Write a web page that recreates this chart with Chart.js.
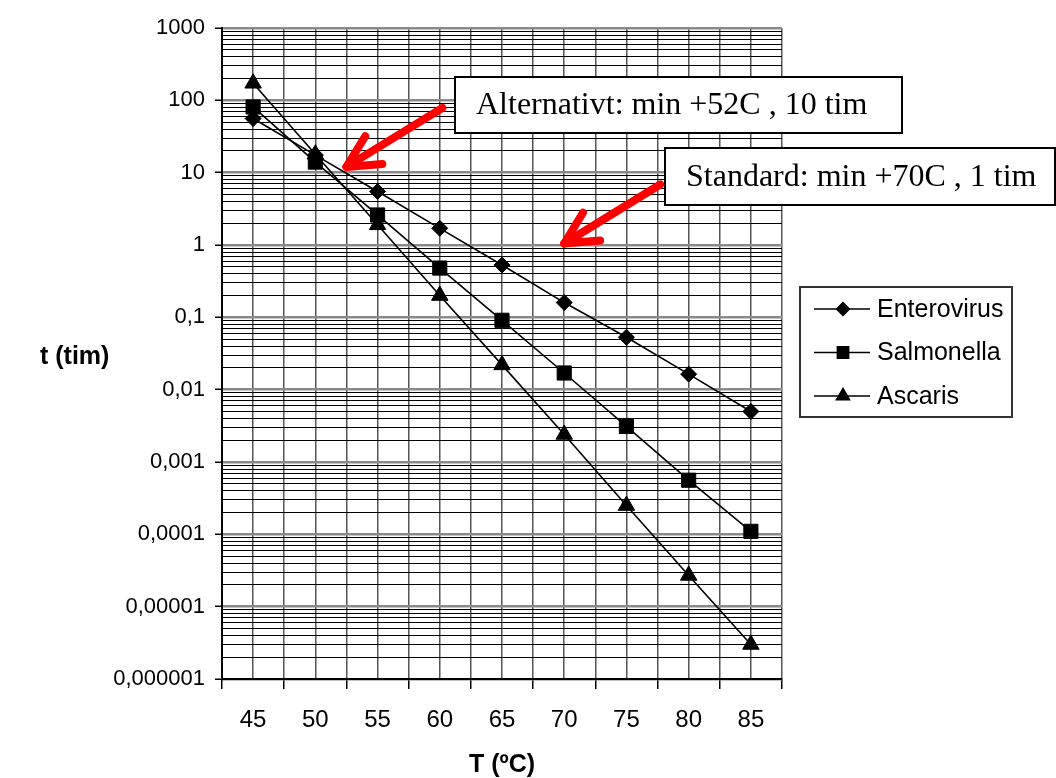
<!DOCTYPE html>
<html>
<head>
<meta charset="utf-8">
<script src="https://cdn.jsdelivr.net/npm/chart.js@4"></script>
<style>
  html, body { margin: 0; padding: 0; background: #fff; }
  #chart { display: block; }
</style>
</head>
<body>
<canvas id="chart" width="1056" height="778"></canvas>
<script>
// Temperatur (ºC) och tid (tim) för avdödning
const categories = [45, 50, 55, 60, 65, 70, 75, 80, 85];
const enterovirus = [56, 17.5, 5.5, 1.7, 0.53, 0.16, 0.053, 0.0164, 0.0050];
const salmonella = [81, 14, 2.6, 0.48, 0.091, 0.017, 0.0031, 0.00056, 0.00011];
const ascaris = [172, 18, 1.9, 0.2, 0.022, 0.0024, 0.00025, 0.000027, 0.000003];
const seriesNames = ['Enterovirus', 'Salmonella', 'Ascaris'];

// y-axelns dekader (etiketter med decimalkomma)
const decades = [0.000001, 0.00001, 0.0001, 0.001, 0.01, 0.1, 1, 10, 100, 1000];
const decadeLabels = ['0,000001', '0,00001', '0,0001', '0,001', '0,01', '0,1', '1', '10', '100', '1000'];

// textrutor med pilar, pilen pekar på (T, t)
const noteTexts = ['Alternativt: min +52C , 10 tim', 'Standard: min +70C , 1 tim'];
const noteTargets = [[52.5, 12], [70, 1.05]];

const isDecade = v => Math.abs(Math.log10(v) - Math.round(Math.log10(v))) < 1e-9;

const toPoints = arr => arr.map((v, i) => ({ x: categories[i], y: v }));

const overlay = {
    id: 'overlay',
    afterDraw(chart) {
        const { ctx, chartArea, scales } = chart;
        ctx.save();

        // y-titel, liggande text
        ctx.fillStyle = '#000';
        ctx.font = 'bold 25px "Liberation Sans", Arial, sans-serif';
        ctx.textAlign = 'left';
        ctx.textBaseline = 'middle';
        ctx.fillText('t (tim)', 40, (chartArea.top + chartArea.bottom) / 2 + 4);

        // legend
        const lx = 800, ly = 287, lw = 212, lh = 130;
        ctx.fillStyle = '#fff';
        ctx.fillRect(lx, ly, lw, lh);
        ctx.strokeStyle = '#333';
        ctx.lineWidth = 2;
        ctx.strokeRect(lx, ly, lw, lh);
        ctx.font = '25px "Liberation Sans", Arial, sans-serif';
        chart.data.datasets.forEach((ds, i) => {
            const y = ly + 22 + i * 43.5;
            ctx.strokeStyle = '#000';
            ctx.lineWidth = 1.5;
            ctx.beginPath();
            ctx.moveTo(lx + 14, y);
            ctx.lineTo(lx + 70, y);
            ctx.stroke();
            ctx.fillStyle = '#000';
            Chart.helpers.drawPoint(ctx, {
                pointStyle: ds.pointStyle,
                radius: ds.pointRadius * 0.8,
                rotation: 0,
                borderWidth: 1
            }, lx + 43, y);
            ctx.fill();
            ctx.fillStyle = '#000';
            ctx.textBaseline = 'middle';
            ctx.fillText(ds.label, lx + 77, y + 1);
        });

        // textrutor
        const boxes = [
            { x: 455, y: 77, w: 447, h: 56 },
            { x: 665, y: 148, w: 390, h: 57 }
        ];
        ctx.font = '32px "Liberation Serif", "Times New Roman", serif';
        boxes.forEach((b, i) => {
            ctx.fillStyle = '#fff';
            ctx.fillRect(b.x, b.y, b.w, b.h);
            ctx.strokeStyle = '#000';
            ctx.lineWidth = 2;
            ctx.strokeRect(b.x, b.y, b.w, b.h);
            ctx.fillStyle = '#000';
            ctx.textBaseline = 'middle';
            ctx.fillText(noteTexts[i], b.x + 21, b.y + b.h / 2 + 1);
        });

        // röda pilar
        ctx.strokeStyle = '#ff0000';
        ctx.lineWidth = 8;
        ctx.lineCap = 'round';
        ctx.lineJoin = 'round';
        noteTargets.forEach(([t, v]) => {
            const tx = scales.x.getPixelForValue(t);
            const ty = scales.y.getPixelForValue(v);
            const sx = tx + 96, sy = ty - 59;
            const ang = Math.atan2(sy - ty, sx - tx);
            const a = 27 * Math.PI / 180, len = 36;
            ctx.beginPath();
            ctx.moveTo(sx, sy);
            ctx.lineTo(tx, ty);
            ctx.stroke();
            ctx.beginPath();
            ctx.moveTo(tx + Math.cos(ang - a) * len, ty + Math.sin(ang - a) * len);
            ctx.lineTo(tx, ty);
            ctx.lineTo(tx + Math.cos(ang + a) * len, ty + Math.sin(ang + a) * len);
            ctx.stroke();
        });

        ctx.restore();
    }
};

const lineStyle = {
    borderColor: '#000',
    backgroundColor: '#000',
    pointBackgroundColor: '#000',
    pointBorderColor: '#000',
    borderWidth: 1.6,
    pointBorderWidth: 1,
    tension: 0,
    fill: false
};

new Chart(document.getElementById('chart'), {
    type: 'line',
    data: {
        datasets: [
            { ...lineStyle, label: seriesNames[0], data: toPoints(enterovirus), pointStyle: 'rectRot', pointRadius: 8 },
            { ...lineStyle, label: seriesNames[1], data: toPoints(salmonella), pointStyle: 'rect', pointRadius: 10 },
            { ...lineStyle, label: seriesNames[2], data: toPoints(ascaris), pointStyle: 'triangle', pointRadius: 9.5 }
        ]
    },
    options: {
        responsive: false,
        animation: false,
        devicePixelRatio: 1,
        layout: { padding: { left: 0, top: 28, right: 274, bottom: 0 } },
        plugins: {
            legend: { display: false },
            tooltip: { enabled: false }
        },
        scales: {
            x: {
                type: 'linear',
                min: categories[0] - 2.5,
                max: categories[categories.length - 1] + 2.5,
                afterBuildTicks: axis => {
                    const t = [];
                    categories.forEach(c => { t.push({ value: c - 2.5 }); t.push({ value: c }); });
                    t.push({ value: categories[categories.length - 1] + 2.5 });
                    axis.ticks = t;
                },
                afterFit: axis => { axis.height = 99; },
                ticks: {
                    autoSkip: false,
                    maxRotation: 0,
                    padding: 17,
                    color: '#000',
                    font: { family: '"Liberation Sans", Arial, sans-serif', size: 24 },
                    callback: v => categories.includes(v) ? String(v) : ''
                },
                grid: {
                    color: '#555',
                    lineWidth: 1.5,
                    tickLength: 10,
                    tickColor: c => (c.tick && categories.includes(c.tick.value)) ? 'rgba(0,0,0,0)' : '#000',
                    tickWidth: 1.5
                },
                border: { color: '#000', width: 2 },
                title: {
                    display: true,
                    text: 'T (ºC)',
                    color: '#000',
                    padding: { top: 0, bottom: 0 },
                    font: { family: '"Liberation Sans", Arial, sans-serif', size: 25, weight: 'bold', lineHeight: 1 }
                }
            },
            y: {
                type: 'logarithmic',
                min: decades[0],
                max: decades[decades.length - 1],
                afterBuildTicks: axis => {
                    const t = [];
                    for (let e = -6; e < 3; e++) {
                        for (let m = 1; m < 10; m++) {
                            t.push({ value: Number((m * Math.pow(10, e)).toPrecision(6)) });
                        }
                    }
                    t.push({ value: 1000 });
                    axis.ticks = t;
                },
                afterFit: axis => { axis.width = 222; },
                ticks: {
                    autoSkip: false,
                    padding: 10,
                    color: '#000',
                    font: { family: '"Liberation Sans", Arial, sans-serif', size: 22 },
                    callback: v => {
                        if (!isDecade(v)) return '';
                        const i = decades.findIndex(d => Math.abs(Math.log10(d) - Math.log10(v)) < 1e-9);
                        return i >= 0 ? decadeLabels[i] : '';
                    }
                },
                grid: {
                    color: c => (c.tick && isDecade(c.tick.value)) ? '#8a8a8a' : '#000',
                    lineWidth: c => (c.tick && isDecade(c.tick.value)) ? 2.5 : 1,
                    tickLength: 7,
                    tickColor: c => (c.tick && isDecade(c.tick.value)) ? '#000' : 'rgba(0,0,0,0)',
                    tickWidth: 1.5
                },
                border: { color: '#000', width: 2 }
            }
        }
    },
    plugins: [overlay]
});
</script>
</body>
</html>
